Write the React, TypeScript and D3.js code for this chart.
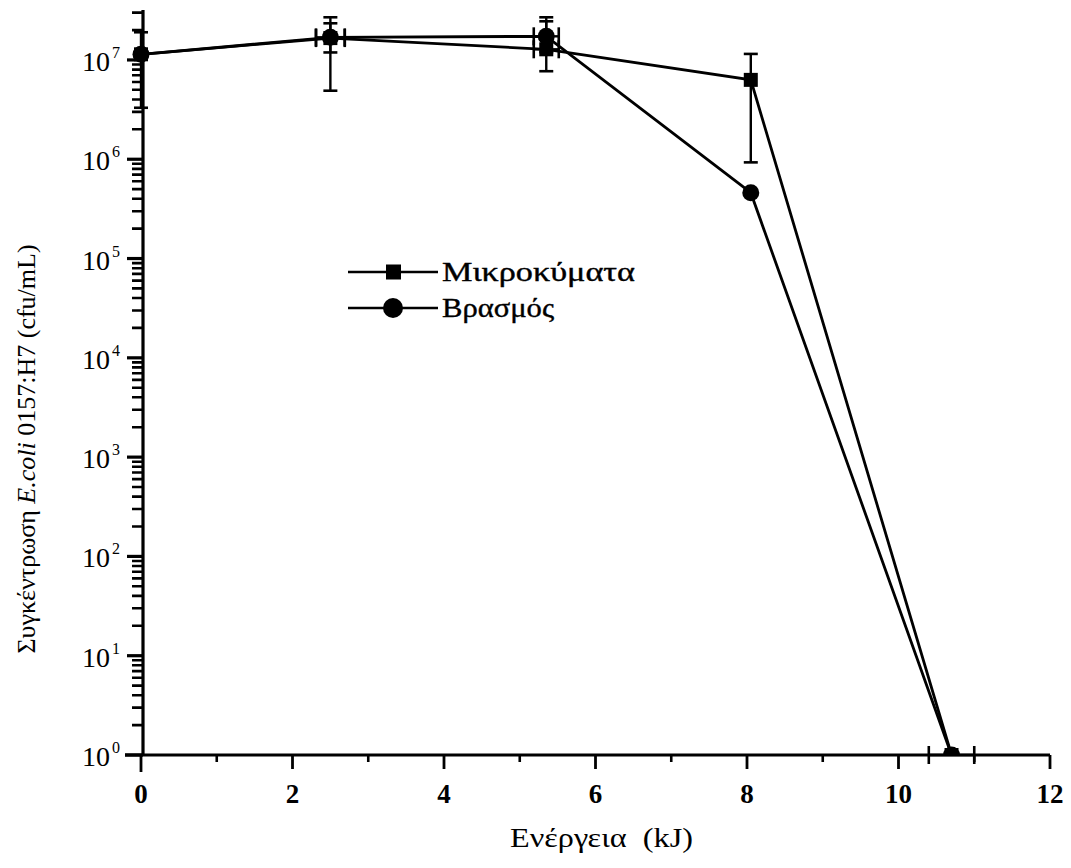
import React, { useEffect, useRef } from 'react';
import * as d3 from 'd3';

// energy (kJ) and E.coli counts (cfu/mL)
const energyMicro = [0, 2.5, 5.35, 8.05, 10.7];
const countMicro = [1.14e7, 1.66e7, 1.28e7, 6.3e6, 1];
const lowMicro = [3.3e6, 4.9e6, 7.7e6, 9.3e5, null];
const highMicro = [1.9e7, 2.69e7, 2.45e7, 1.15e7, null];
const energyErrMicro = [0, 0.19, 0.165, 0, 0.3];

const energyBoil = [0, 2.5, 5.35, 8.05, 10.7];
const countBoil = [1.14e7, 1.69e7, 1.73e7, 4.6e5, 1];
const lowBoil = [null, 1.19e7, 1.2e7, null, null];
const highBoil = [null, 2.34e7, 2.69e7, null, null];
const energyErrBoil = [0, 0.19, 0.165, 0, 0];

const xTicks = [0, 2, 4, 6, 8, 10, 12];
const xMinorTicks = [1, 3, 5, 7, 9, 11];
const yExponents = [0, 1, 2, 3, 4, 5, 6, 7];

const legendNames = ['Μικροκύματα', 'Βρασμός'];

const App = () => {
  const svgRef = useRef<SVGSVGElement>(null);

  useEffect(() => {
    const W = 1071;
    const H = 868;
    const serif = '"Liberation Serif", "DejaVu Serif", serif';

    const svg = d3.select(svgRef.current)
      .attr('width', W)
      .attr('height', H);
    svg.selectAll('*').remove();

    // set the ranges
    const x = d3.scaleLinear().domain([0, 12]).range([141, 1050]);
    const y = d3.scaleLog().domain([1, 10 ** 7.5]).range([755, 10.3]);

    const y0 = y(1);

    // clip so the markers at 10^0 sit half under the axis
    svg.append('defs').append('clipPath').attr('id', 'plotclip')
      .append('rect')
      .attr('x', 0).attr('y', 0)
      .attr('width', W).attr('height', y0);

    const plot = svg.append('g').attr('clip-path', 'url(#plotclip)');

    const series = [
      {
        xs: energyMicro, ys: countMicro, lo: lowMicro, hi: highMicro, ex: energyErrMicro, shape: 'square',
      },
      {
        xs: energyBoil, ys: countBoil, lo: lowBoil, hi: highBoil, ex: energyErrBoil, shape: 'circle',
      },
    ];

    series.forEach((s) => {
      const l = d3.line<number>()
        .x((d, i) => x(s.xs[i]))
        .y(d => y(d));
      plot.append('path')
        .datum(s.ys)
        .attr('d', l)
        .attr('fill', 'none')
        .attr('stroke', '#000')
        .attr('stroke-width', 2.8);
    });

    // error bars
    series.forEach((s) => {
      s.ys.forEach((v, i) => {
        const cx = x(s.xs[i]);
        const cy = y(v);
        const lo = s.lo[i];
        const hi = s.hi[i];
        if (lo !== null && hi !== null) {
          plot.append('line')
            .attr('x1', cx).attr('x2', cx)
            .attr('y1', y(lo)).attr('y2', y(hi))
            .attr('stroke', '#000').attr('stroke-width', 2.4);
          [lo, hi].forEach((e) => {
            plot.append('line')
              .attr('x1', cx - 7).attr('x2', cx + 7)
              .attr('y1', y(e)).attr('y2', y(e))
              .attr('stroke', '#000').attr('stroke-width', 2.6);
          });
        }
        if (s.ex[i] > 0) {
          const xl = x(s.xs[i] - s.ex[i]);
          const xr = x(s.xs[i] + s.ex[i]);
          svg.append('line')
            .attr('x1', xl).attr('x2', xr)
            .attr('y1', cy).attr('y2', cy)
            .attr('stroke', '#000').attr('stroke-width', 2.4);
          [xl, xr].forEach((e) => {
            svg.append('line')
              .attr('x1', e).attr('x2', e)
              .attr('y1', cy - 9).attr('y2', cy + 9)
              .attr('stroke', '#000').attr('stroke-width', 2.6);
          });
        }
      });
    });

    // markers
    series.forEach((s) => {
      s.ys.forEach((v, i) => {
        const cx = x(s.xs[i]);
        const cy = y(v);
        if (s.shape === 'square') {
          plot.append('rect')
            .attr('x', cx - 7).attr('y', cy - 7)
            .attr('width', 14).attr('height', 14)
            .attr('fill', '#000');
        } else {
          plot.append('circle')
            .attr('cx', cx).attr('cy', cy)
            .attr('r', 8.5)
            .attr('fill', '#000');
        }
      });
    });

    // Y axis
    const yAxis = svg.append('g');

    // minor ticks (2..9 x 10^k) from the log scale, as one path
    const minorY = y.ticks().filter(v => Math.abs(Math.log10(v) - Math.round(Math.log10(v))) > 1e-6);
    const minorPath = minorY.map(v => `M132,${y(v).toFixed(1)}H143`).join('');
    yAxis.append('path')
      .attr('d', minorPath)
      .attr('fill', 'none')
      .attr('stroke', '#000')
      .attr('stroke-width', 2.6);

    yAxis.append('line')
      .attr('x1', 143).attr('x2', 143)
      .attr('y1', 10).attr('y2', y0)
      .attr('stroke', '#000').attr('stroke-width', 3.2);

    yExponents.forEach((k) => {
      const ty = y(10 ** k);
      yAxis.append('line')
        .attr('x1', k === 0 ? 125 : 127).attr('x2', 143)
        .attr('y1', ty).attr('y2', ty)
        .attr('stroke', '#000').attr('stroke-width', 3.2);
      yAxis.append('text')
        .attr('x', 110).attr('y', ty + 11)
        .attr('text-anchor', 'end')
        .attr('font-family', serif)
        .attr('font-size', 28)
        .attr('fill', '#000')
        .text('10');
      yAxis.append('text')
        .attr('x', 112).attr('y', ty - 2)
        .attr('font-family', serif)
        .attr('font-size', 16)
        .attr('fill', '#000')
        .text(String(k));
    });

    // X axis
    const xAxis = svg.append('g');
    xAxis.append('line')
      .attr('x1', 125).attr('x2', 1050)
      .attr('y1', y0).attr('y2', y0)
      .attr('stroke', '#000').attr('stroke-width', 3.2);
    xMinorTicks.forEach((v) => {
      xAxis.append('line')
        .attr('x1', x(v)).attr('x2', x(v))
        .attr('y1', y0).attr('y2', y0 + 7)
        .attr('stroke', '#000').attr('stroke-width', 2.6);
    });
    xTicks.forEach((v) => {
      xAxis.append('line')
        .attr('x1', x(v)).attr('x2', x(v))
        .attr('y1', y0).attr('y2', y0 + (v === 0 ? 17 : 14))
        .attr('stroke', '#000').attr('stroke-width', 2.8);
      xAxis.append('text')
        .attr('x', x(v)).attr('y', 803)
        .attr('text-anchor', 'middle')
        .attr('font-family', serif)
        .attr('font-weight', 'bold')
        .attr('font-size', 27)
        .attr('fill', '#000')
        .text(v);
    });

    // axis titles
    svg.append('text')
      .attr('x', 510).attr('y', 847)
      .attr('font-family', serif)
      .attr('font-size', 27)
      .attr('textLength', 183)
      .attr('lengthAdjust', 'spacingAndGlyphs')
      .attr('fill', '#000')
      .attr('xml:space', 'preserve')
      .text('Ενέργεια  (kJ)');

    const yt = svg.append('text')
      .attr('transform', 'translate(35,449) rotate(-90)')
      .attr('text-anchor', 'middle')
      .attr('font-family', serif)
      .attr('font-size', 26)
      .attr('fill', '#000');
    yt.append('tspan').text('Συγκέντρωση ');
    yt.append('tspan').attr('font-style', 'italic').text('E.coli');
    yt.append('tspan').text(' 0157:H7 (cfu/mL)');

    // legend
    const legend = svg.append('g');
    const rows = [272, 308];
    const widths = [193, 112];
    legendNames.forEach((name, i) => {
      const ly = rows[i];
      legend.append('line')
        .attr('x1', 348).attr('x2', 438)
        .attr('y1', ly).attr('y2', ly)
        .attr('stroke', '#000').attr('stroke-width', 2.6);
      if (i === 0) {
        legend.append('rect')
          .attr('x', 386).attr('y', ly - 7.5)
          .attr('width', 15).attr('height', 15)
          .attr('fill', '#000');
      } else {
        legend.append('circle')
          .attr('cx', 393).attr('cy', ly)
          .attr('r', 10)
          .attr('fill', '#000');
      }
      legend.append('text')
        .attr('x', 442).attr('y', ly + 9)
        .attr('font-family', serif)
        .attr('font-size', 28)
        .attr('textLength', widths[i])
        .attr('lengthAdjust', 'spacingAndGlyphs')
        .attr('fill', '#000')
        .attr('stroke', '#000')
        .attr('stroke-width', 0.4)
        .text(name);
    });
  }, []);

  return (
    <div className="line-chart">
      <svg ref={svgRef} style={{ position: 'absolute', left: 0, top: 0, background: '#fff' }} />
    </div>
  );
};

export default App;
